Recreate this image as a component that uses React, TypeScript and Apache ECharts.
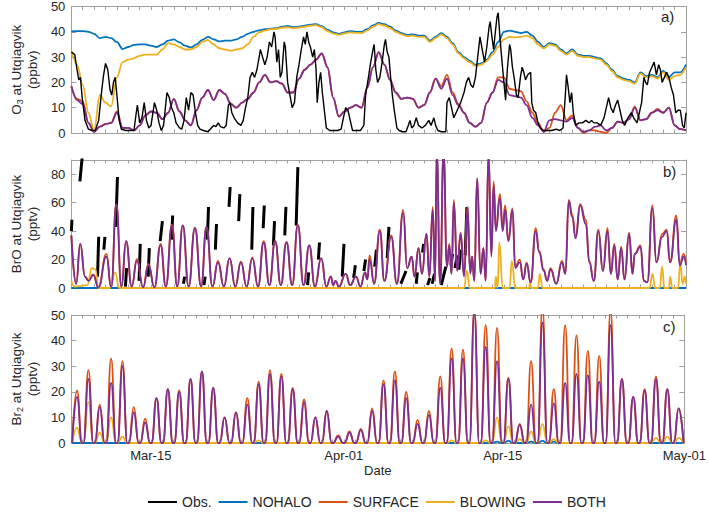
import React, { useEffect, useRef } from "react";
import * as echarts from "echarts";

// x axis: days since 2018-03-08 00:00 (0) to May-01 (54)
const X_MIN = 0;
const X_MAX = 54;
const tickDays = [7, 24, 38, 54];
const tickLabels = ["Mar-15", "Apr-01", "Apr-15", "May-01"];

// ---------- panel a: O3 (ppbv), model output every 12 h from Mar-08 00:00
const o3NoHalo = [
  40.2, 40.3, 40.3, 40, 39.2, 37.5, 38, 37.5, 36, 33.2,
  34, 34.8, 35, 35, 34.5, 34, 35, 36.5, 37, 35.8,
  34.5, 33.8, 35, 36.8, 38, 37, 36.2, 36.5, 36.5, 37,
  38, 39.2, 40, 40.6, 41, 41.2, 41.4, 42, 42.3, 41.8,
  42, 42.4, 42.8, 43, 42.2, 40.8, 39.8, 39.2, 39.8, 40.3,
  40, 40, 41, 42.5, 43.5, 43, 42, 40.5, 39.5, 38.8,
  39, 38.5, 38.5, 36.5, 38, 39.5, 38, 35.5, 32, 30,
  28.5, 27, 27.5, 29, 32, 36, 40, 40.5, 40, 39.5,
  40, 38.5, 36, 34, 35.5, 35, 33, 31.5, 33, 31,
  30.5, 30.5, 30, 29.5, 27.5, 25, 22.5, 21.5, 21, 20,
  24, 22.5, 23, 22, 24.5, 22, 24, 24, 27,
];
const o3Blowing = [
  32.5, 27, 19, 8, 1, 15, 12, 10.5, 22, 28,
  29, 29.5, 30.5, 31, 31, 31, 33, 35.5, 35, 34,
  33, 33, 34, 36, 36.8, 35, 33.5, 33, 32.5, 33,
  33.5, 35, 38, 39.8, 40.5, 41, 41.2, 41.6, 41.8, 41.4,
  41.7, 42, 42.4, 42.6, 41.8, 40.3, 39.3, 38.8, 39.4, 39.8,
  39.6, 39.5, 40.6, 42, 43, 42.5, 41.5, 40, 39, 38.3,
  38.5, 38, 38, 36, 37.5, 39, 37.5, 35, 31.5, 29.5,
  28, 26.5, 27, 28.5, 31, 34, 37, 38, 37.8, 38,
  38.5, 37.5, 35, 33.5, 35, 34.5, 32.5, 31, 32.5, 30.5,
  30, 30, 29.5, 29, 27, 24.5, 22, 21, 20.5, 19.5,
  23.5, 22, 22.5, 21.5, 24, 21, 22.5, 23, 26,
];
const o3Both = [
  18.5, 13, 11.5, 4, 0.5, 2.5, 3.5, 4, 8, 2,
  2, 1, 3, 7, 8.5, 8, 5.5, 8, 13.5, 8.5,
  5, 3, 9, 14, 17, 13, 17, 15.5, 11.5, 10,
  12, 13.5, 16, 20, 23, 20, 20.5, 19.5, 16, 16,
  21.5, 25, 27, 29, 31.5, 26, 14, 6.5, 8.5, 10,
  11, 10, 18, 26, 32, 27, 21, 16, 13.5, 14,
  13.5, 10, 11, 16, 21.5, 17.5, 21.5, 15, 11, 8,
  4, 2.5, 4, 12, 16, 21, 20, 15, 14.5, 14,
  11, 6, 3, 0.5, 5, 5.5, 5, 4.5, 6, 2,
  0.5, 1, 2.5, 3, 1, 2, 4.5, 4, 5.5, 10,
  5, 5.5, 8, 9, 8, 10, 3, 1.5, 1,
];
const o3Surface = [
  18.5, 13.5, 12.5, 4, 0.5, 2.5, 3.5, 4, 8.5, 2,
  2, 1, 3, 7, 8.5, 8, 5.5, 8, 13.5, 8.5,
  5, 3, 9, 14, 17, 13, 17, 15.5, 11.5, 10,
  12, 13.5, 16, 20, 23, 20, 20.5, 19.5, 16, 16,
  21.5, 25, 27, 29, 31.5, 26, 14, 6.5, 8.5, 10,
  11, 10, 18, 26, 32, 27, 21, 16, 13.5, 14,
  13.5, 10, 11, 16, 21.5, 18.5, 23, 16, 11.5, 8,
  4, 2.5, 4, 12, 16, 22, 22, 17.5, 17, 16.5,
  12.5, 8, 4, 0.5, 2, 8, 11, 5, 7, 2,
  0, 1, 1, 0.5, 0, 2, 4.5, 4, 5.5, 10.5,
  5, 5.5, 8, 9.5, 8, 10, 3, 1.5, 1,
];
// observed O3: [day, ppbv]
const o3Obs: [number, number][] = [
  [0, 32], [0.3, 31], [0.5, 25], [0.65, 21], [0.8, 22], [0.95, 14], [1.2, 5], [1.5, 1.5], [1.8, 1], [2.1, 1],
  [2.4, 5], [2.6, 14], [2.8, 22], [3.0, 27.5], [3.2, 25], [3.4, 17], [3.55, 15], [3.7, 20], [3.85, 22], [4.0, 15],
  [4.2, 5], [4.4, 1.5], [4.8, 1], [5.2, 1], [5.5, 1], [5.7, 8], [5.8, 11], [6.0, 4], [6.2, 6], [6.4, 12],
  [6.6, 5], [6.8, 2], [7.0, 3], [7.3, 12], [7.5, 9], [7.7, 4], [7.9, 1], [8.1, 3], [8.4, 16], [8.6, 14],
  [8.8, 10], [9.0, 8], [9.2, 4], [9.5, 2], [9.7, 1.5], [9.9, 5], [10.1, 14], [10.3, 9], [10.5, 16], [10.7, 15],
  [10.9, 8], [11.1, 3], [11.3, 1.5], [11.6, 1], [12.0, 0.5], [12.3, 2], [12.5, 3], [12.7, 2.5], [12.9, 4], [13.1, 2.5],
  [13.4, 2], [13.6, 3], [13.8, 11], [13.95, 12], [14.1, 8], [14.3, 6], [14.6, 4], [14.9, 3], [15.1, 5], [15.3, 10],
  [15.5, 14], [15.7, 22], [15.9, 24], [16.1, 22], [16.3, 25], [16.5, 30], [16.6, 33], [16.8, 30], [17.0, 27], [17.2, 30],
  [17.4, 36], [17.6, 34], [17.8, 40], [17.9, 38], [18.05, 28], [18.2, 33], [18.35, 22], [18.5, 24], [18.7, 36], [18.8, 34],
  [19.0, 20], [19.2, 15], [19.4, 10], [19.6, 12], [19.8, 22], [20.0, 27], [20.2, 33], [20.4, 38], [20.55, 35], [20.7, 40],
  [20.85, 36], [21.0, 34], [21.2, 30], [21.35, 33], [21.5, 25], [21.6, 12], [21.75, 20], [21.9, 24], [22.05, 16], [22.2, 10],
  [22.4, 2], [22.7, 1], [23.0, 1], [23.4, 1], [23.7, 1.5], [23.9, 6], [24.1, 10], [24.3, 9], [24.5, 5], [24.7, 1],
  [25.0, 1], [25.4, 1], [25.7, 3], [25.85, 15], [26.1, 22], [26.3, 28], [26.5, 33], [26.6, 35], [26.75, 25], [26.9, 20],
  [27.1, 22], [27.3, 28], [27.5, 35], [27.6, 37], [27.75, 32], [27.9, 30], [28.05, 22], [28.2, 15], [28.4, 8], [28.6, 2],
  [28.8, 1], [29.1, 0.5], [29.4, 0.5], [29.6, 3], [29.75, 5], [29.9, 2], [30.1, 3], [30.3, 6], [30.5, 3], [30.8, 2],
  [31.1, 3], [31.4, 5], [31.6, 3], [31.85, 6], [32.0, 3], [32.2, 1], [32.5, 0.5], [32.9, 0.5], [33.0, 12], [33.2, 14],
  [33.4, 10], [33.6, 6], [33.8, 8], [34.0, 10], [34.2, 12], [34.5, 16], [34.7, 20], [34.9, 22], [35.1, 19], [35.3, 18],
  [35.5, 22], [35.7, 30], [35.9, 38], [36.1, 33], [36.3, 28], [36.5, 34], [36.7, 42], [36.8, 44], [36.95, 38], [37.1, 33],
  [37.25, 40], [37.4, 46], [37.5, 47.5], [37.65, 38], [37.8, 30], [38.0, 20], [38.15, 13], [38.3, 25], [38.5, 35], [38.6, 33],
  [38.75, 26], [38.9, 22], [39.1, 15], [39.25, 14], [39.45, 22], [39.6, 26], [39.75, 24], [39.9, 21], [40.1, 23], [40.35, 24],
  [40.45, 12], [40.6, 9], [40.8, 8], [41.0, 4], [41.2, 2], [41.5, 1], [41.9, 1], [42.2, 1], [42.6, 1.5], [42.9, 1],
  [43.2, 2], [43.4, 15], [43.5, 23], [43.65, 18], [43.8, 12], [43.95, 16], [44.1, 8], [44.3, 3], [44.6, 4], [44.9, 4],
  [45.2, 5], [45.5, 4], [45.7, 5], [45.9, 4], [46.2, 4], [46.5, 3], [46.8, 6], [47.0, 10], [47.2, 14], [47.4, 10],
  [47.6, 8], [47.8, 11], [48.0, 13], [48.2, 9], [48.4, 5], [48.6, 3], [48.9, 6], [49.2, 8], [49.4, 6], [49.7, 4],
  [49.9, 8], [50.1, 12], [50.3, 22], [50.45, 20], [50.6, 19], [50.8, 24], [51.0, 26], [51.2, 28], [51.4, 23], [51.6, 27],
  [51.75, 25], [51.9, 20], [52.1, 22], [52.3, 24], [52.5, 22], [52.7, 18], [52.9, 15], [53.1, 8], [53.3, 9], [53.5, 9],
  [53.7, 3], [53.85, 2], [54, 8],
];

// ---------- panel b: BrO (pptv); model vertices [day, BOTH, SURFACE]
const broModel: [number, number, number][] = [
  [0, 37, 37], [0.42, 3, 3], [0.78, 31, 31], [1.2, 8, 8], [1.5, 5, 5.5], [1.93, 9, 9.5], [2.37, 0.5, 0.5],
  [3.08, 22, 24], [3.5, 0.5, 0.5], [3.95, 59, 59], [4.4, 1, 1], [4.81, 33, 33], [5.3, 1, 1], [5.76, 19, 20.5],
  [6.3, 0.5, 0.5], [6.77, 16, 17], [7.3, 0.5, 0.5], [7.84, 30, 31], [8.3, 1, 1], [8.84, 44, 44.5], [9.3, 1, 1],
  [9.79, 44, 44], [10.3, 1, 1], [10.86, 42, 42.5], [11.4, 1, 1], [11.87, 43, 43], [12.4, 1, 1], [12.88, 18, 19],
  [13.4, 1, 1], [13.9, 21, 21], [14.4, 1, 1], [14.9, 18, 18.5], [15.4, 1, 1], [15.9, 21, 21.5], [16.4, 1, 1],
  [16.9, 32, 33], [17.4, 2, 2], [17.9, 33, 33], [18.4, 2, 2], [18.9, 32, 32.5], [19.4, 2, 2], [19.9, 44, 44.5],
  [20.4, 2, 2], [20.9, 30, 30], [21.4, 1, 1], [21.95, 21, 21], [22.4, 1, 1], [22.8, 8, 8], [23.0, 2, 2],
  [23.2, 5, 5], [23.5, 1, 1], [24.1, 10, 10], [24.5, 2, 2], [25.0, 8, 8], [25.4, 1, 1], [25.8, 11, 11],
  [26.0, 6, 6], [26.2, 20, 23], [26.6, 3, 3], [27.1, 40, 41], [27.5, 5, 5], [28.1, 36, 37], [28.6, 3, 3],
  [29.15, 53, 55], [29.5, 14, 14], [29.9, 22, 22], [30.15, 8, 8], [30.5, 28, 28], [30.8, 10, 10], [31.2, 38, 38],
  [31.45, 8, 8], [31.75, 55, 57], [31.95, 5, 5], [32.1, 95, 95], [32.4, 3, 3], [32.7, 95, 95], [33.0, 15, 15],
  [33.2, 30, 31], [33.4, 10, 10], [33.6, 60, 62], [33.9, 12, 13], [34.2, 38, 39], [34.5, 8, 9], [34.8, 56, 57],
  [35.05, 10, 11], [35.2, 22, 22], [35.4, 5, 5], [35.65, 77, 77], [35.95, 10, 10], [36.2, 28, 28], [36.4, 5, 5],
  [36.65, 95, 95], [36.9, 22, 24], [37.1, 72, 75], [37.3, 40, 42], [37.65, 63, 66], [37.9, 40, 42], [38.1, 55, 58],
  [38.4, 33, 34], [38.75, 55, 56], [39.0, 14, 15], [39.4, 18, 20], [39.7, 6, 6], [40.0, 17, 18], [40.35, 4, 4],
  [40.8, 40, 42], [41.1, 25, 26], [41.5, 12, 13], [41.8, 5, 5], [42.1, 13, 14], [42.6, 3, 3], [43.1, 18, 19],
  [43.4, 10, 10], [43.7, 61, 62], [44.0, 50, 52], [44.3, 35, 36], [44.7, 58, 59], [45.2, 45, 48], [45.5, 18, 19],
  [45.9, 5, 5], [46.3, 40, 41], [46.7, 12, 12], [47.1, 40, 42], [47.4, 10, 10], [47.7, 30, 31], [48.0, 6, 6],
  [48.3, 28, 29], [48.6, 6, 6], [49.0, 38, 39], [49.3, 10, 10], [49.5, 24, 24], [50.0, 29, 30], [50.3, 5, 5],
  [50.6, 4, 4], [51.05, 56, 58], [51.4, 18, 18], [51.9, 36, 38], [52.3, 40, 41], [52.6, 18, 18], [53.15, 48, 51],
  [53.45, 16, 17], [53.8, 22, 24], [54.0, 16, 18],
];
const broBlowing: [number, number][] = [
  [0, 5], [0.3, 1], [1.4, 2], [1.8, 14], [2.1, 13], [2.4, 0], [3.4, 0], [3.85, 11], [4.2, 0],
  [34.5, 0], [34.75, 12], [35, 0], [37.2, 0], [37.3, 8], [37.45, 0], [37.6, 32], [37.9, 0],
  [38.5, 0], [38.7, 19], [39, 0], [40.2, 0], [40.3, 4], [40.4, 0], [41, 0], [41.15, 10], [41.4, 0],
  [50.8, 0], [51.05, 10], [51.3, 0], [51.7, 0], [51.9, 15], [52.1, 0], [52.5, 0], [52.6, 8], [52.8, 0],
  [53.3, 0], [53.5, 18], [53.7, 3], [53.9, 8], [54, 3],
];
const broNoHalo: [number, number][] = [[0, 0], [54, 0]];
// observed BrO streaks: [dayStart, valueStart, dayEnd, valueEnd]
const broObsSegments: [number, number, number, number][] = [
  [0.0, 40, 0.05, 48], [0.75, 75, 0.95, 92], [2.3, 8, 2.4, 36], [2.85, 27, 2.95, 36], [3.9, 43, 4.05, 78],
  [4.75, 1, 4.85, 14], [5.95, 5, 6.05, 31], [6.75, 8, 6.85, 28], [7.8, 33, 8.0, 47], [8.8, 34, 8.9, 51],
  [9.85, 3, 9.95, 8], [11.65, 2, 11.75, 8], [11.95, 34, 12.05, 57], [12.65, 27, 12.75, 45], [13.85, 57, 13.95, 71],
  [14.7, 47, 14.8, 66], [15.85, 27, 15.95, 57], [16.85, 42, 16.95, 58], [17.75, 30, 17.85, 47], [18.75, 37, 18.85, 57],
  [19.75, 44, 19.9, 85], [20.75, 2, 20.85, 11], [21.7, 20, 21.8, 32], [23.8, 8, 23.95, 31], [24.8, 7, 24.95, 16],
  [25.7, 12, 25.85, 20], [26.65, 15, 26.8, 27], [27.75, 21, 27.9, 43], [28.95, 3, 29.4, 12], [30.3, 3, 30.4, 11],
  [30.85, 25, 30.95, 31], [31.3, 2, 31.5, 7], [31.7, 3, 31.9, 10], [32.5, 2, 32.9, 15], [33.35, 16, 33.5, 24],
  [33.7, 14, 33.9, 23], [34.05, 13, 34.2, 27], [34.6, 23, 34.75, 57],
];

// ---------- panel c: Br2 (pptv) daily midday peaks, day 0 (Mar-08) .. 53 (Apr-30)
const br2Both = [
  18, 25, 14, 23.5, 30, 12, 8, 17.5, 21, 20,
  25, 28, 21.5, 10, 12, 15, 23, 27, 26, 21,
  16, 10, 12.5, 2.5, 4, 5, 12.5, 23, 24.5, 17.5,
  7.5, 11, 21.5, 33, 33, 51, 37.5, 32, 25, 7,
  15, 47, 15.5, 23.5, 27, 26.5, 24, 46, 25, 18,
  20.5, 25, 21, 13.5,
];
const br2Surface = [
  20.5, 28.5, 15, 33, 32, 14, 9.5, 17.5, 21, 20.5,
  25, 28, 21.5, 10, 12, 17.5, 24, 28.5, 27, 21.5,
  17, 10, 12.5, 3, 4.5, 5.5, 13.5, 24.5, 28, 20,
  9, 12.5, 26, 37, 36.5, 52, 46, 45, 25.5, 7.5,
  32, 53, 21, 46, 42, 36, 34, 52, 25, 18,
  21, 26, 21, 13.5,
];
const br2Blowing = [
  6, 16, 4, 10, 2.5, 0, 0, 0, 0, 0,
  0, 0, 0, 0, 0, 0, 1, 0, 0, 0,
  0, 0, 0, 0, 0, 0, 0, 0, 0, 0,
  0, 0, 0, 1, 0, 0, 1, 10, 6.5, 1.5,
  4.5, 7.5, 1.5, 0, 0, 0, 0, 0, 0, 0,
  0, 2, 2.5, 2,
];
const br2NoHalo = [
  0, 0, 0, 0, 0, 0, 0, 0, 0, 0,
  0, 0, 0, 0, 0, 0, 0, 0, 0, 0,
  0, 0, 0, 0, 0, 0, 0, 0, 0, 0,
  0, 0, 0, 0, 0, 0, 0, 0.5, 0.8, 0,
  0.5, 0.8, 0.5, 0, 0, 0, 0, 0, 0, 0,
  0, 0, 0, 0,
];

const seriesNames = ["Obs.", "NOHALO", "SURFACE", "BLOWING", "BOTH"];
const seriesColors: Record<string, string> = {
  "Obs.": "#000000",
  NOHALO: "#0072BD",
  SURFACE: "#D95319",
  BLOWING: "#EDB120",
  BOTH: "#7E2F8E",
};

const FONT = "'Liberation Sans', Arial, sans-serif";
const TXT = "#262626";
const FRAME = "#a0a0a0";

const halfDaily = (v: number[]) => v.map((y, i) => [i * 0.5, y]);
const dailyPulses = (p: number[]) =>
  p.flatMap((y, d) => [[d + 0.07, 0], [d + 0.5, y], [d + 0.93, 0]]);
const streaks = (s: [number, number, number, number][]) =>
  s.flatMap(([t0, v0, t1, v1]) => [[t0, v0], [t1, v1], [t1, "-"]]);

function xAxesFor(gridIndex: number, withLabels: boolean) {
  const common = {
    type: "value",
    gridIndex,
    min: X_MIN,
    max: X_MAX,
    interval: 1,
    splitLine: { show: false },
    axisLine: { show: true, onZero: false, lineStyle: { color: FRAME, width: 1 } },
    axisTick: { show: true, inside: true, length: 3.5, lineStyle: { color: FRAME } },
  };
  return [
    {
      ...common,
      position: "bottom",
      axisLabel: withLabels
        ? {
            show: true,
            color: TXT,
            fontSize: 13,
            fontFamily: FONT,
            margin: 6,
            formatter: (v: number) => {
              const k = tickDays.indexOf(Math.round(v));
              return k >= 0 && Math.abs(v - tickDays[k]) < 1e-6 ? tickLabels[k] : "";
            },
          }
        : { show: false },
      name: withLabels ? "Date" : "",
      nameLocation: "middle",
      nameGap: 21,
      nameTextStyle: { color: TXT, fontSize: 13, fontFamily: FONT },
    },
    { ...common, position: "top", axisLabel: { show: false } },
  ];
}

function yAxesFor(gridIndex: number, max: number, interval: number, name: string, hideMax: boolean) {
  const common = {
    type: "value",
    gridIndex,
    min: 0,
    max,
    interval,
    splitLine: { show: false },
    axisLine: { show: true, onZero: false, lineStyle: { color: FRAME, width: 1 } },
    axisTick: { show: true, inside: true, length: 5, lineStyle: { color: FRAME } },
  };
  return [
    {
      ...common,
      position: "left",
      axisLabel: {
        show: true,
        color: TXT,
        fontSize: 13,
        fontFamily: FONT,
        margin: 6,
        showMaxLabel: !hideMax,
      },
      name,
      nameLocation: "middle",
      nameRotate: 90,
      nameGap: 20,
      nameTextStyle: {
        color: TXT,
        fontSize: 13.5,
        fontFamily: FONT,
        lineHeight: 16,
        rich: {
          sub: { fontSize: 9, fontFamily: FONT, color: TXT, padding: [7, 0, 0, 0] },
        },
      },
    },
    { ...common, position: "right", axisLabel: { show: false } },
  ];
}

function lineSeries(name: string, data: any[], axisBase: number, opts: any = {}) {
  return {
    type: "line",
    name,
    data,
    xAxisIndex: axisBase,
    yAxisIndex: axisBase,
    showSymbol: false,
    symbol: "none",
    smooth: name === "Obs." ? false : 0.35,
    smoothMonotone: "x",
    connectNulls: false,
    lineStyle: { color: seriesColors[name], width: 1.8 },
    itemStyle: { color: seriesColors[name] },
    emphasis: { disabled: true },
    ...opts,
  };
}

export default function App() {
  const ref = useRef<HTMLDivElement>(null);
  useEffect(() => {
    if (!ref.current) return;
    const chart = echarts.init(ref.current, undefined, { renderer: "svg" });
    const option: any = {
      animation: false,
      textStyle: { fontFamily: FONT },
      grid: [
        { left: 61, top: 5, width: 625, height: 128 },
        { left: 61, top: 160, width: 625, height: 128 },
        { left: 61, top: 315, width: 625, height: 128 },
      ],
      xAxis: [...xAxesFor(0, false), ...xAxesFor(1, false), ...xAxesFor(2, true)],
      yAxis: [
        ...yAxesFor(0, 50, 10, "O{sub|3} at Utqiagvik\n(ppbv)", false),
        ...yAxesFor(1, 90, 20, "BrO at Utqiagvik\n(pptv)", true),
        ...yAxesFor(2, 50, 10, "Br{sub|2} at Utqiagvik\n(pptv)", false),
      ],
      legend: {
        data: seriesNames,
        left: 143,
        top: 490,
        icon: "rect",
        itemWidth: 29,
        itemHeight: 2,
        itemGap: 7,
        textStyle: { color: TXT, fontSize: 14, fontFamily: FONT },
        selectedMode: false,
      },
      graphic: [
        { type: "text", left: 661, top: 9, style: { text: "a)", fontSize: 15, fontFamily: FONT, fill: TXT } },
        { type: "text", left: 663, top: 164, style: { text: "b)", fontSize: 15, fontFamily: FONT, fill: TXT } },
        { type: "text", left: 663, top: 319, style: { text: "c)", fontSize: 15, fontFamily: FONT, fill: TXT } },
      ],
      series: [
        // panel a
        lineSeries("NOHALO", halfDaily(o3NoHalo), 0),
        lineSeries("SURFACE", halfDaily(o3Surface), 0),
        lineSeries("BLOWING", halfDaily(o3Blowing), 0),
        lineSeries("BOTH", halfDaily(o3Both), 0),
        lineSeries("Obs.", o3Obs, 0, { lineStyle: { color: "#000", width: 1.4 } }),
        // panel b
        lineSeries("Obs.", streaks(broObsSegments), 2, { lineStyle: { color: "#000", width: 3 } }),
        lineSeries("NOHALO", broNoHalo, 2),
        lineSeries("SURFACE", broModel.map((r) => [r[0], r[2]]), 2, { smooth: 0.5 }),
        lineSeries("BLOWING", broBlowing, 2, { smooth: 0.5 }),
        lineSeries("BOTH", broModel.map((r) => [r[0], r[1]]), 2, { smooth: 0.5 }),
        // panel c
        lineSeries("NOHALO", dailyPulses(br2NoHalo), 4, { smooth: 0.5 }),
        lineSeries("SURFACE", dailyPulses(br2Surface), 4, { smooth: 0.5 }),
        lineSeries("BLOWING", dailyPulses(br2Blowing), 4, { smooth: 0.5 }),
        lineSeries("BOTH", dailyPulses(br2Both), 4, { smooth: 0.5 }),
      ],
    };
    chart.setOption(option);
    return () => chart.dispose();
  }, []);
  return (
    <div
      ref={ref}
      style={{ position: "fixed", left: 0, top: 0, width: 709, height: 512, background: "#fff" }}
    />
  );
}
